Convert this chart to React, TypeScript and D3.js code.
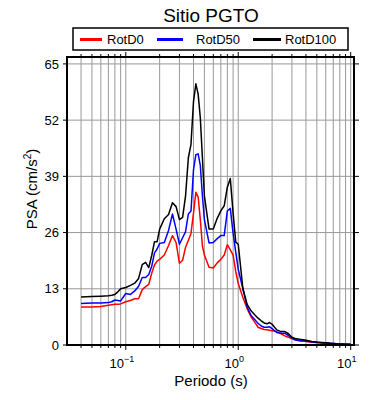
import React from "react";
import * as d3 from "d3";

// periods (s) and spectral accelerations (cm/s^2)
const periods = [
  0.04, 0.05, 0.06, 0.07, 0.075, 0.08, 0.085, 0.09, 0.1, 0.11, 0.12, 0.13, 0.14, 0.15, 0.16, 0.17,
  0.18, 0.19, 0.2, 0.22, 0.24, 0.26, 0.28, 0.3, 0.32, 0.34, 0.36, 0.38, 0.4, 0.42, 0.44, 0.46, 0.48,
  0.5, 0.55, 0.6, 0.65, 0.7, 0.75, 0.8, 0.85, 0.9, 0.95, 1.0, 1.1, 1.2, 1.3, 1.4, 1.5, 1.6, 1.7, 1.8,
  1.9, 2.0, 2.2, 2.4, 2.6, 2.8, 3.0, 3.2, 3.4, 3.6, 3.8, 4.0, 4.5, 5, 5.5, 6, 6.5, 7, 7.5, 8, 8.5, 9,
  9.5, 10,
];

const rotD0 = [
  8.8, 8.8, 8.9, 9.2, 9.3, 9.4, 9.4, 9.5, 10.0, 10.3, 10.7, 10.7, 12.8, 13.5, 14.0, 16.6, 18.5, 19.4,
  19.8, 20.8, 23.0, 25.3, 23.7, 18.9, 19.6, 22.6, 24.2, 25.8, 30.5, 35.3, 34.2, 29.0, 22.9, 20.8, 18.0,
  17.8, 19.0, 19.8, 20.8, 23.2, 22.0, 20.8, 17.0, 14.2, 11.0, 8.4, 6.5, 5.3, 4.1, 3.8, 3.6, 3.5, 3.4,
  3.3, 3.1, 2.6, 2.1, 1.8, 1.5, 1.2, 1.05, 0.95, 0.9, 0.8, 0.65, 0.55, 0.45, 0.4, 0.33, 0.28, 0.24, 0.2,
  0.18, 0.16, 0.14, 0.12,
];

const rotD50 = [
  9.6, 9.7, 9.7, 9.8, 10.0, 10.4, 10.3, 10.2, 11.9, 11.7, 12.5, 13.6, 15.6, 15.6, 16.3, 18.2, 21.3,
  22.2, 23.5, 23.7, 26.5, 30.3, 26.8, 23.3, 24.8, 26.2, 30.3, 31.0, 40.5, 44.0, 44.2, 41.5, 34.5, 29.0,
  23.6, 23.7, 24.6, 25.3, 25.3, 31.0, 31.6, 25.8, 21.5, 17.5, 13.0, 8.8, 6.8, 5.9, 5.0, 4.4, 4.1, 4.1,
  4.2, 3.8, 2.9, 2.7, 2.7, 2.2, 1.6, 1.2, 1.1, 1.0, 1.0, 0.9, 0.75, 0.6, 0.5, 0.45, 0.38, 0.32, 0.27,
  0.23, 0.2, 0.18, 0.16, 0.14,
];

const rotD100 = [
  11.1, 11.2, 11.3, 11.4, 11.5, 11.7, 12.3, 13.0, 13.3, 13.8, 14.3, 15.4, 18.6, 19.1, 17.9, 20.7, 23.9,
  23.9, 26.8, 29.2, 30.2, 32.9, 32.0, 29.0, 29.5, 34.5, 43.3, 46.4, 56.3, 60.4, 58.0, 52.5, 43.3, 34.5,
  26.8, 26.8, 29.3, 31.0, 32.2, 36.5, 38.5, 30.5, 23.8, 23.3, 13.0, 9.4, 7.9, 7.0, 6.2, 5.6, 5.1, 4.9,
  5.2, 4.8, 3.5, 3.1, 3.1, 2.6, 1.8, 1.5, 1.4, 1.3, 1.2, 1.1, 0.8, 0.7, 0.6, 0.5, 0.4, 0.35, 0.3, 0.25,
  0.22, 0.2, 0.18, 0.15,
];

const seriesNames = ["RotD0", "RotD50", "RotD100"];
const seriesColors = ["#ff0000", "#0000ff", "#000000"];
const yTicks = [0, 13, 26, 39, 52, 65];
const xMajor = [0.1, 1, 10];
const xMajorExp = ["−1", "0", "1"];

const W = 390;
const H = 400;
const left = 67;
const right = 354;
const top = 57;
const bottom = 345;
const font = "'Liberation Sans', Arial, Helvetica, sans-serif";

export default function App() {
  const x = d3.scaleLog().domain([0.03, 10.7]).range([left, right]);
  const y = d3.scaleLinear().domain([0, 66.6]).range([bottom, top]);

  const minor = x.ticks().filter((t) => t > 0.0301 && !xMajor.some((m) => Math.abs(m - t) < 1e-9));
  const grid = x.ticks().filter((t) => t > 0.0301 && t < 10.7);

  const line = d3
    .line<number>()
    .x((_, i) => x(periods[i]))
    .y((d) => y(d));

  const series = [rotD0, rotD50, rotD100];
  const legendItems = [
    { lx: 80, tx: 107 },
    { lx: 157, tx: 196 },
    { lx: 253, tx: 285 },
  ];
  const lineLen = [22, 26, 28];

  return (
    <div style={{ position: "absolute", left: 0, top: 0 }}>
      <svg width={W} height={H} style={{ display: "block", background: "#fff" }} fontFamily={font}>
        <text x={211} y={22} textAnchor="middle" fontSize={19}>
          Sitio PGTO
        </text>

        {/* grid */}
        <g stroke="#999" strokeWidth={1}>
          {grid.map((t) => (
            <line key={"gx" + t} x1={x(t)} x2={x(t)} y1={top} y2={bottom} />
          ))}
          {yTicks.slice(1).map((t) => (
            <line key={"gy" + t} x1={left} x2={right} y1={y(t)} y2={y(t)} />
          ))}
        </g>

        {/* data */}
        <g fill="none" strokeWidth={1.5} strokeLinejoin="round">
          {series.map((s, i) => (
            <path key={seriesNames[i]} d={line(s) || ""} stroke={seriesColors[i]} />
          ))}
        </g>

        {/* frame and ticks */}
        <rect x={left} y={top} width={right - left} height={bottom - top} fill="none" stroke="#000" strokeWidth={2} />
        <g stroke="#000" strokeWidth={1}>
          {yTicks.map((t) => (
            <g key={"yt" + t}>
              <line x1={left - 4} x2={left} y1={y(t)} y2={y(t)} />
              <line x1={right} x2={right + 5} y1={y(t)} y2={y(t)} />
            </g>
          ))}
          {minor.map((t) => (
            <g key={"mx" + t}>
              <line x1={x(t)} x2={x(t)} y1={bottom} y2={bottom + 3} />
              <line x1={x(t)} x2={x(t)} y1={top} y2={top - 3} />
            </g>
          ))}
          {xMajor.map((t) => (
            <g key={"Mx" + t}>
              <line x1={x(t)} x2={x(t)} y1={bottom} y2={bottom + 5} />
              <line x1={x(t)} x2={x(t)} y1={top} y2={top - 5} />
            </g>
          ))}
        </g>

        {/* tick labels */}
        <g fontSize={13} fill="#000">
          {yTicks.map((t) => (
            <text key={"yl" + t} x={left - 8} y={y(t)} dy="0.36em" textAnchor="end">
              {t}
            </text>
          ))}
          {xMajor.map((t, i) => (
            <text key={"xl" + t} x={x(t) - 4} y={368} textAnchor="middle">
              10
              <tspan fontSize={9} dy={-6}>
                {xMajorExp[i]}
              </tspan>
            </text>
          ))}
        </g>

        {/* axis titles */}
        <text x={211} y={386} textAnchor="middle" fontSize={15}>
          Periodo (s)
        </text>
        <text transform="translate(37,189) rotate(-90)" textAnchor="middle" fontSize={15}>
          PSA (cm/s
          <tspan fontSize={10} dy={-6}>
            2
          </tspan>
          <tspan dy={6}>)</tspan>
        </text>

        {/* legend */}
        <rect x={73} y={28} width={275} height={22} fill="#fff" stroke="#000" strokeWidth={1.5} />
        {seriesNames.map((n, i) => (
          <g key={"lg" + n}>
            <line
              x1={legendItems[i].lx}
              x2={legendItems[i].lx + lineLen[i]}
              y1={39.5}
              y2={39.5}
              stroke={seriesColors[i]}
              strokeWidth={3}
            />
            <text x={legendItems[i].tx} y={44} fontSize={13}>
              {n}
            </text>
          </g>
        ))}
      </svg>
    </div>
  );
}
